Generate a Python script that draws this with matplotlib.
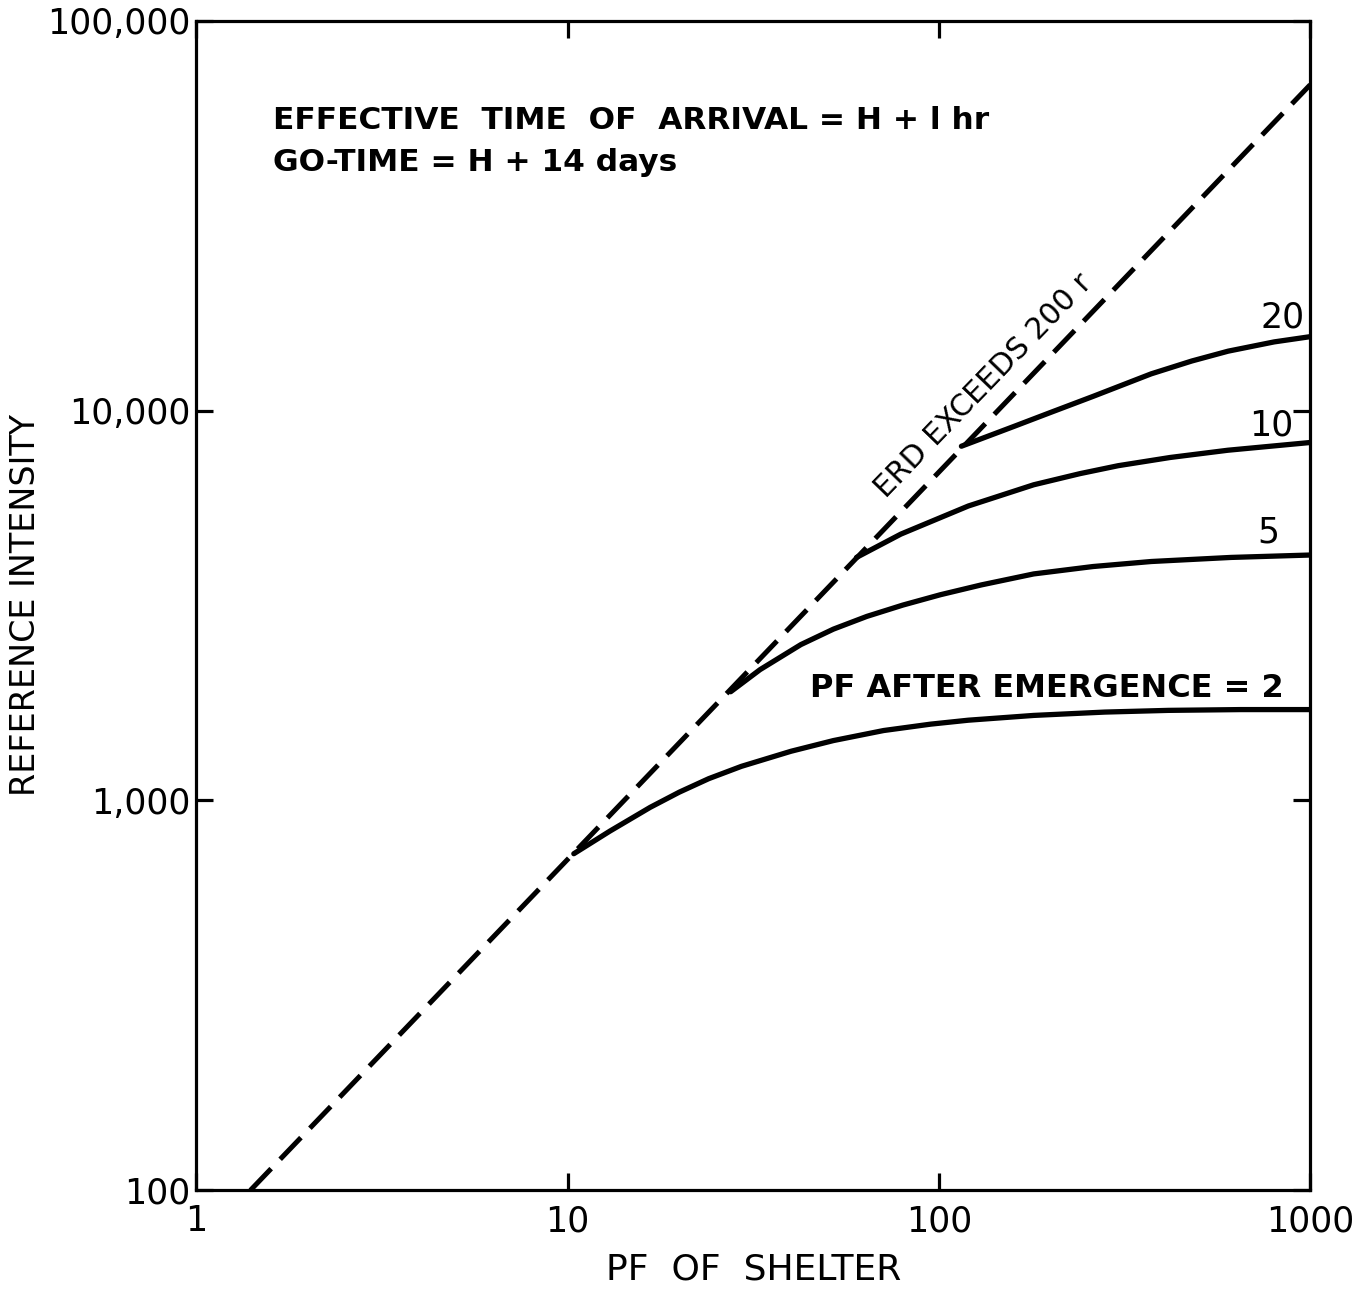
import matplotlib
matplotlib.use("Agg")
import matplotlib.pyplot as plt
from matplotlib.ticker import FixedLocator, FixedFormatter, NullLocator

# limiting line: ERD exceeds 200 r
pf_dash = [1.4, 1000]
ri_dash = [100, 68500]

# curves for each PF after emergence
pf_2 = [10.4, 13, 16.7, 20, 24, 29.4, 40, 52, 71, 95, 120, 180, 280, 415, 650, 1000]
ri_2 = [730, 834, 960, 1050, 1137, 1223, 1337, 1424, 1511, 1569, 1606, 1652, 1685, 1702, 1710, 1710]

pf_5 = [27.5, 33, 42.5, 52, 64, 80, 101, 130, 180, 260, 373, 612, 1000]
ri_5 = [1900, 2165, 2510, 2750, 2965, 3170, 3370, 3570, 3810, 3980, 4100, 4200, 4260]

pf_10 = [60, 79, 120, 180, 240, 304, 420, 600, 1000]
ri_10 = [4200, 4820, 5690, 6450, 6890, 7220, 7580, 7910, 8280]

pf_20 = [115, 135, 160, 200, 260, 373, 480, 601, 800, 1000]
ri_20 = [8100, 8580, 9120, 9890, 10870, 12420, 13400, 14200, 15000, 15470]

x_ticks = [1, 10, 100, 1000]
x_ticklabels = ["1", "10", "100", "1000"]
y_ticks = [100, 1000, 10000, 100000]
y_ticklabels = ["100", "1,000", "10,000", "100,000"]

fig = plt.figure(figsize=(13.62, 12.91), dpi=100)
ax = fig.add_axes([0.144, 0.078, 0.818, 0.906])

ax.set_xscale("log")
ax.set_yscale("log")
ax.set_xlim(1, 1000)
ax.set_ylim(100, 100000)

ax.plot(pf_dash, ri_dash, color="black", lw=3.6, dashes=[6, 2.6], solid_capstyle="butt")
for xs, ys in [(pf_2, ri_2), (pf_5, ri_5), (pf_10, ri_10), (pf_20, ri_20)]:
    ax.plot(xs, ys, color="black", lw=3.8, solid_capstyle="round",
            solid_joinstyle="round")

# axis frame and ticks
for sp in ax.spines.values():
    sp.set_linewidth(2.3)
ax.xaxis.set_major_locator(FixedLocator(x_ticks))
ax.xaxis.set_major_formatter(FixedFormatter(x_ticklabels))
ax.yaxis.set_major_locator(FixedLocator(y_ticks))
ax.yaxis.set_major_formatter(FixedFormatter(y_ticklabels))
ax.xaxis.set_minor_locator(NullLocator())
ax.yaxis.set_minor_locator(NullLocator())
ax.tick_params(direction="in", length=12, width=2.3, top=True, right=True,
               labelsize=25)
ax.tick_params(axis="x", pad=10)
ax.tick_params(axis="y", pad=4)

ax.set_xlabel("PF  OF  SHELTER", fontsize=26, labelpad=10)
ax.set_ylabel("REFERENCE INTENSITY", fontsize=24, labelpad=4)

# notes inside the plot
ax.text(0.069, 0.915, "EFFECTIVE  TIME  OF  ARRIVAL = H + l hr", transform=ax.transAxes,
        fontsize=22.5, fontweight="bold", ha="left", va="center")
ax.text(0.069, 0.879, "GO-TIME = H + 14 days", transform=ax.transAxes,
        fontsize=22.5, fontweight="bold", ha="left", va="center")
ax.text(0.707, 0.688, "ERD EXCEEDS 200 r", transform=ax.transAxes,
        fontsize=21.5, ha="center", va="center",
        rotation=46, rotation_mode="anchor")

ax.text(0.975, 0.746, "20", transform=ax.transAxes, fontsize=25,
        ha="center", va="center")
ax.text(0.965, 0.654, "10", transform=ax.transAxes, fontsize=25,
        ha="center", va="center")
ax.text(0.962, 0.562, "5", transform=ax.transAxes, fontsize=25,
        ha="center", va="center")
ax.text(0.764, 0.4294, "PF AFTER EMERGENCE = 2", transform=ax.transAxes,
        fontsize=23, fontweight="bold", ha="center", va="center")

fig.savefig("out.png", dpi=100)
